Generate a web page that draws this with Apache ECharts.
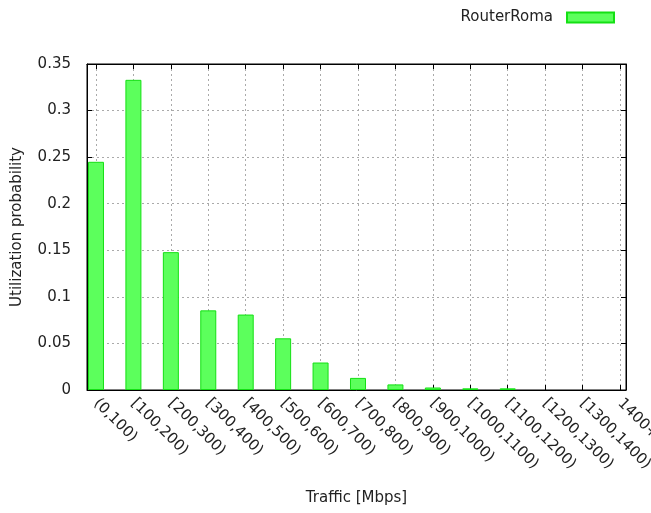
<!DOCTYPE html>
<html>
<head>
<meta charset="utf-8">
<title>RouterRoma</title>
<script src="https://cdn.jsdelivr.net/npm/echarts@6/dist/echarts.min.js"></script>
<style>
  html, body { margin: 0; padding: 0; background: #fff; }
  #ww { width: 651px; height: 513px; }
</style>
</head>
<body>
<div id="ww"></div>
<script>
// x轴的分类
var categories = ["(0,100)", "[100,200)", "[200,300)", "[300,400)", "[400,500)",
  "[500,600)", "[600,700)", "[700,800)", "[800,900)", "[900,1000)",
  "[1000,1100)", "[1100,1200)", "[1200,1300)", "[1300,1400)", "1400+"];
// 柱子的数值
var routerRoma = [0.245, 0.333, 0.148, 0.0855, 0.081, 0.0555, 0.0295, 0.013,
  0.006, 0.0027, 0.0018, 0.0018, 0, 0, 0];
// y轴刻度
var yTicks = [0, 0.05, 0.1, 0.15, 0.2, 0.25, 0.3, 0.35];

var tickIdx = categories.map(function (c, i) { return i; });
// 0 的柱子不画(否则底边会多出一条绿线)
var barData = routerRoma.map(function (v, i) { return v > 0 ? [i, v] : [i, "-"]; });

var font = "'DejaVu Sans', 'Liberation Sans', sans-serif";
var dotted = { color: "#aaa", type: [2, 3], width: 1 };
var txt = { fontSize: 15, color: "#222", fontFamily: font };

var chartDom = document.getElementById("ww");
var myChart = echarts.init(chartDom);
var option = {
  animation: false,
  textStyle: { fontFamily: font },
  legend: {
    right: 31,
    top: 5,
    icon: "rect",
    align: "right",
    itemWidth: 47,
    itemHeight: 10,
    textStyle: { fontSize: 15, color: "#222", fontFamily: font, padding: [0, 9, 0, 0] },
    data: ["RouterRoma"]
  },
  grid: {
    left: 87,
    right: 25,
    top: 64,
    bottom: 123,
    containLabel: false,
    outerBoundsMode: "none",
    show: true,
    borderColor: "#000",
    borderWidth: 1
  },
  xAxis: [
    {
      type: "value",
      min: -0.24,
      max: 14.16,
      position: "bottom",
      name: "Traffic [Mbps]",
      nameLocation: "middle",
      nameGap: 101,
      nameTextStyle: txt,
      axisLine: { show: true, onZero: false, lineStyle: { color: "#000" } },
      axisTick: { show: true, inside: true, length: 5, customValues: tickIdx, lineStyle: { color: "#000" } },
      axisLabel: {
        customValues: tickIdx,
        rotate: -45,
        margin: 11,
        fontSize: 15,
        color: "#222",
        fontFamily: font,
        formatter: function (v) { return categories[Math.round(v)]; }
      },
      splitLine: { show: true, lineStyle: dotted }
    },
    {
      type: "value",
      min: -0.24,
      max: 14.16,
      position: "top",
      axisLine: { show: true, onZero: false, lineStyle: { color: "#000" } },
      axisTick: { show: true, inside: true, length: 5, customValues: tickIdx, lineStyle: { color: "#000" } },
      axisLabel: { show: false },
      splitLine: { show: false }
    }
  ],
  yAxis: [
    {
      type: "value",
      min: yTicks[0],
      max: yTicks[yTicks.length - 1],
      interval: 0.05,
      name: "Utilization probability",
      nameLocation: "middle",
      nameGap: 62,
      nameTextStyle: txt,
      axisLine: { show: true, onZero: false, lineStyle: { color: "#000" } },
      axisTick: { show: true, inside: true, length: 5, lineStyle: { color: "#000" } },
      axisLabel: {
        margin: 16,
        fontSize: 15,
        color: "#222",
        fontFamily: font,
        formatter: function (v) { return String(Math.round(v * 100) / 100); }
      },
      splitLine: { show: true, lineStyle: dotted }
    },
    {
      type: "value",
      min: yTicks[0],
      max: yTicks[yTicks.length - 1],
      interval: 0.05,
      position: "right",
      axisLine: { show: true, onZero: false, lineStyle: { color: "#000" } },
      axisTick: { show: true, inside: true, length: 5, lineStyle: { color: "#000" } },
      axisLabel: { show: false },
      splitLine: { show: false }
    }
  ],
  series: [
    {
      name: "RouterRoma",
      type: "bar",
      xAxisIndex: 0,
      yAxisIndex: 0,
      barWidth: 16,
      clip: true,
      itemStyle: {
        color: "#5cff5c",
        borderColor: "#14e014",
        borderWidth: 1
      },
      data: barData
    }
  ]
};

option && myChart.setOption(option);
</script>
</body>
</html>
